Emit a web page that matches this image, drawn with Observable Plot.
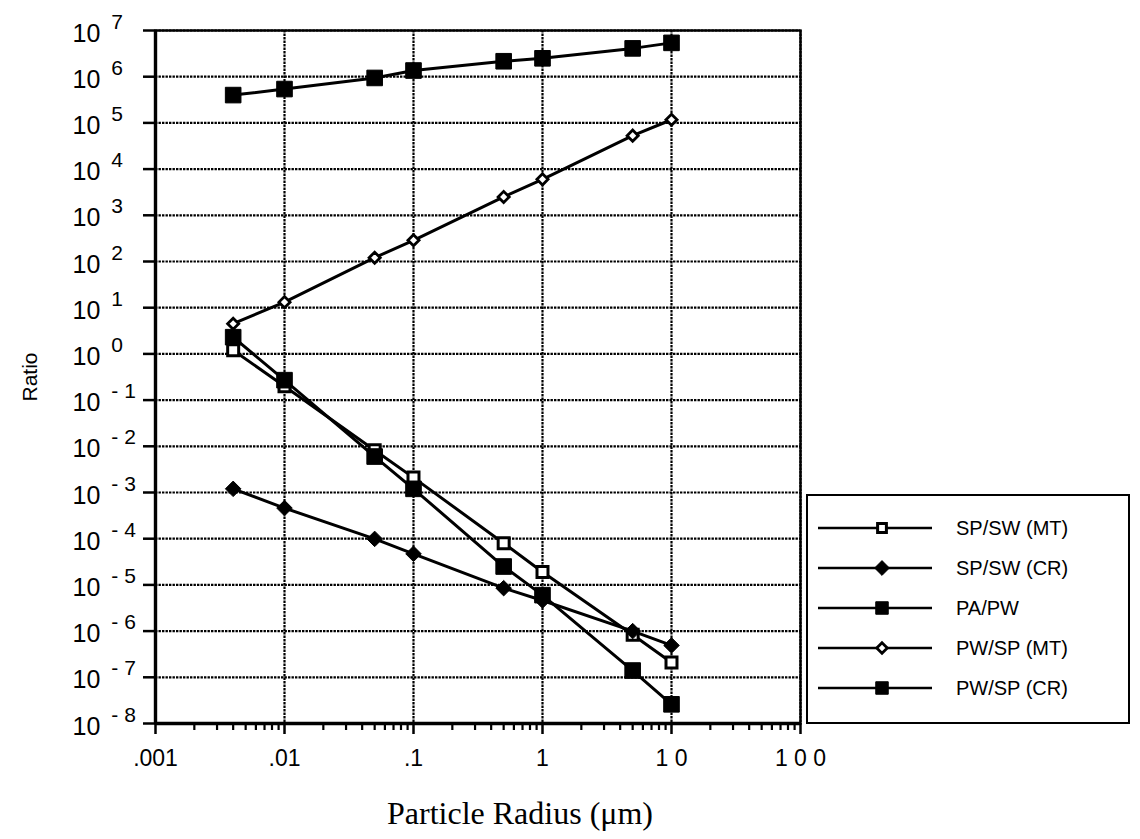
<!DOCTYPE html>
<html><head><meta charset="utf-8">
<script src="https://cdn.jsdelivr.net/npm/d3@7"></script>
<script src="https://cdn.jsdelivr.net/npm/@observablehq/plot@0.6"></script>
<style>
body{margin:0;background:#fff;}
#wrap{position:relative;width:1140px;height:839px;background:#fff;}
#legend{position:absolute;left:806px;top:494px;width:324px;height:230px;border:2.5px solid #000;background:#fff;box-sizing:border-box;}
</style></head><body><div id="wrap"></div>
<script>
// ---- data ----
const radius = [0.004, 0.01, 0.05, 0.1, 0.5, 1, 5, 10];
const spswMT = [1.2, 0.2, 0.0082, 0.0021, 8.0e-5, 1.9e-5, 8.3e-7, 2.1e-7];
const spswCR = [1.2e-3, 4.6e-4, 9.9e-5, 4.7e-5, 8.5e-6, 4.6e-6, 1.0e-6, 4.9e-7];
const papw   = [4.0e5, 5.4e5, 9.4e5, 1.36e6, 2.16e6, 2.5e6, 4.1e6, 5.4e6];
const pwspMT = [4.5, 13.2, 121, 288, 2.5e3, 6.0e3, 5.3e4, 1.17e5];
const pwspCR = [2.3, 0.27, 0.006, 0.0012, 2.5e-5, 6.0e-6, 1.4e-7, 2.6e-8];
const seriesNames = ["SP/SW (MT)", "SP/SW (CR)", "PA/PW", "PW/SP (MT)", "PW/SP (CR)"];
const seriesValues = [spswMT, spswCR, papw, pwspMT, pwspCR];
const xTickValues = [0.001, 0.01, 0.1, 1, 10, 100];
const xTickLabels = [".001", ".01", ".1", "1", "1 0", "1 0 0"];
const yExponents = [7, 6, 5, 4, 3, 2, 1, 0, -1, -2, -3, -4, -5, -6, -7, -8];
const xTitle = "Particle Radius (\u03bcm)";
const yTitle = "Ratio";

// ---- styles ----
const styles = {
  "SP/SW (MT)": {symbol: "square", fill: "white", r: 6.2, sw: 3},
  "SP/SW (CR)": {symbol: "diamond2", fill: "black", r: 7.0, sw: 1},
  "PA/PW":      {symbol: "square", fill: "black", r: 8.8, sw: 1},
  "PW/SP (MT)": {symbol: "diamond2", fill: "white", r: 5.0, sw: 2.8},
  "PW/SP (CR)": {symbol: "square", fill: "black", r: 8.8, sw: 1}
};

const rows = [];
seriesNames.forEach((name, s) => radius.forEach((x, i) => rows.push({series: name, x, y: seriesValues[s][i]})));

const yTicks = yExponents.map(e => Math.pow(10, e));
const minorX = [];
for (let d = 0.001; d < 100; d *= 10) for (let k = 2; k <= 9; k++) minorX.push(+(d * k).toPrecision(3));
const xLabelMap = new Map(xTickValues.map((v, i) => [v, xTickLabels[i]]));

const sans = "'Liberation Sans', Arial, Helvetica, sans-serif";
const grid = {stroke: "black", strokeOpacity: 1, strokeWidth: 2.2, strokeDasharray: "2.4,1.1"};

const dotMarks = seriesNames.map(name => {
  const st = styles[name];
  return Plot.dot(rows.filter(d => d.series === name), {
    x: "x", y: "y", symbol: () => st.symbol, r: st.r, fill: st.fill, stroke: "black", strokeWidth: st.sw
  });
});

const chart = Plot.plot({
  width: 1140, height: 839,
  marginLeft: 155, marginRight: 340, marginTop: 30, marginBottom: 116,
  style: {fontFamily: sans, color: "black", background: "white"},
  x: {type: "log", domain: [0.001, 100]},
  y: {type: "log", domain: [1e-8, 1e7]},
  symbol: {type: "identity"},
  marks: [
    Plot.gridX(xTickValues, grid),
    Plot.gridY(yTicks, grid),
    Plot.axisX(minorX, {tickSize: 7, strokeWidth: 2.2, tickFormat: () => "", label: null}),
    Plot.axisX(xTickValues, {tickSize: 11, strokeWidth: 2.5, tickPadding: 15, fontSize: 23, tickFormat: d => xLabelMap.get(d), label: null}),
    Plot.axisY(yTicks, {tickSize: 12, strokeWidth: 2.5, tickPadding: 71, textAnchor: "start", fontSize: 25, tickFormat: d => String(Math.round(Math.log10(d))), label: null}),
    Plot.frame({stroke: "black", strokeWidth: 2.4}),
    Plot.ruleX([0.001], {stroke: "black", strokeWidth: 3.4}),
    Plot.ruleY([1e-8], {stroke: "black", strokeWidth: 3.4}),
    Plot.line(rows, {x: "x", y: "y", z: "series", stroke: "black", strokeWidth: 3}),
    ...dotMarks,
    Plot.text([yTitle], {frameAnchor: "left", dx: -125, rotate: -90, textAnchor: "middle", fontSize: 21, fontFamily: sans, text: d => d}),
    Plot.text([xTitle], {frameAnchor: "bottom", dx: 42, dy: 100, textAnchor: "middle", fontSize: 32, fontFamily: "'Liberation Serif', 'DejaVu Serif', serif", text: d => d})
  ]
});

// explicit tick label fonts
d3.select(chart).selectAll('g[aria-label="x-axis tick label"]').attr("font-size", 23);
d3.select(chart).selectAll('g[aria-label="x-axis tick label"] text').attr("font-size", 23);
// superscript exponents on y tick labels
d3.select(chart).selectAll('g[aria-label="y-axis tick label"]').attr("font-size", 25);
d3.select(chart).selectAll('g[aria-label="y-axis tick label"] text').each(function () {
  const e = +this.textContent;
  const t = d3.select(this);
  t.attr("font-size", 25).attr("text-anchor", "start");
  t.text(null);
  t.append("tspan").attr("dy", 3).text("10");
  t.append("tspan").attr("dx", 11).attr("dy", -13).attr("font-size", 21).text(e < 0 ? "- " + (-e) : String(e));
});

const wrap = document.getElementById("wrap");
wrap.appendChild(chart);

// ---- legend ----
const leg = document.createElement("div");
leg.id = "legend";
wrap.appendChild(leg);
const lsvg = d3.select(leg).append("svg").attr("width", 320).attr("height", 226);
seriesNames.forEach((name, i) => {
  const st = styles[name];
  const cy = 32 + i * 40;
  lsvg.append("line").attr("x1", 10).attr("x2", 124).attr("y1", cy).attr("y2", cy).attr("stroke", "black").attr("stroke-width", 2.4);
  const sym = st.symbol === "square" ? d3.symbolSquare : d3.symbolDiamond2;
  const rr = st.symbol === "square" ? st.r * 0.8 : st.r * 0.95;
  lsvg.append("path").attr("d", d3.symbol(sym, Math.PI * rr * rr)())
    .attr("transform", `translate(74,${cy})`)
    .attr("fill", st.fill).attr("stroke", "black").attr("stroke-width", st.sw);
  lsvg.append("text").attr("x", 148).attr("y", cy).attr("dy", "0.35em")
    .attr("font-family", sans).attr("font-size", 20).text(name);
});
</script>
</body></html>
